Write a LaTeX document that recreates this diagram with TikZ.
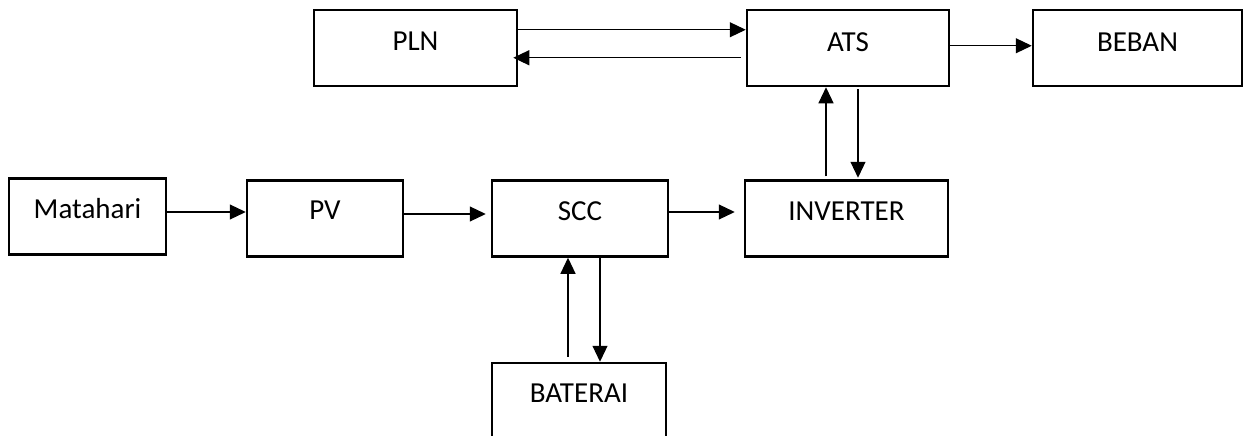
\documentclass[tikz,border=0pt]{standalone}
\usepackage{fontspec}
\setmainfont{Carlito}
\usetikzlibrary{arrows.meta}

\tikzset{
    blok/.style={draw=black, line width=2.5pt, minimum width=#1, minimum height=76pt},
    teks/.style={font=\fontsize{29}{33}\selectfont},
    panah/.style={black, line width=1.1pt, -{Triangle[length=16pt,width=15pt]}}
}

\begin{document}
\begin{tikzpicture}[x=1pt,y=1pt]
            \tikzstyle{every node}+=[inner sep=0pt]
            \path [use as bounding box, clip] (0,0) rectangle (1244,-436);
            \node (pln) [blok=203pt] at (415.5,-48) {};
            \node (ats) [blok=202pt] at (848,-48) {};
            \node (beban) [blok=209pt] at (1137.5,-48) {};
            \node (matahari) [blok=157pt] at (87.5,-216.5) {};
            \node (pv) [blok=156pt] at (325,-218.5) {};
            \node (scc) [blok=176pt] at (580,-218.5) {};
            \node (inverter) [blok=203pt] at (846.5,-218.5) {};
            \node (baterai) [blok=174pt] at (579,-401) {};
            \node (plnteks) [teks] at ([yshift=-32pt]pln.north) {PLN};
            \node (atsteks) [teks] at ([yshift=-33pt]ats.north) {ATS};
            \node (bebanteks) [teks] at ([yshift=-33pt]beban.north) {BEBAN};
            \node (mataharitekst) [teks] at ([yshift=-31pt]matahari.north) {Matahari};
            \node (pvteks) [teks] at ([yshift=-31pt]pv.north) {PV};
            \node (sccteks) [teks] at ([yshift=-32pt]scc.north) {SCC};
            \node (inverterteks) [teks] at ([yshift=-32pt]inverter.north) {INVERTER};
            \node (bateraiteks) [teks] at ([yshift=-31pt]baterai.north) {BATERAI};
            \draw [panah] ([yshift=-21pt]pln.north east) -- ([yshift=-21pt]ats.north west);
            \draw [panah] ([xshift=-5pt,yshift=-49pt]ats.north west) -- ([xshift=-5pt,yshift=-49pt]pln.north east);
            \draw [panah] ([xshift=-2pt,yshift=-37pt]ats.north east) -- ([yshift=-37pt]beban.north west);
            \draw [panah] ([yshift=4.5pt]matahari.east) -- ([yshift=4.5pt]matahari.east -| pv.west);
            \draw [panah] ([yshift=4.5pt]pv.east) -- ([xshift=-5pt,yshift=4.5pt]scc.west);
            \draw [panah] ([yshift=6.5pt]scc.east) -- ([xshift=-9pt,yshift=6.5pt]inverter.west);
            \draw [panah] ([xshift=-22pt,yshift=-89pt]ats.south) -- ([xshift=-22pt]ats.south);
            \draw [panah] ([xshift=10pt,yshift=-2pt]ats.south) -- ([xshift=11.5pt,yshift=1.5pt]inverter.north);
            \draw [panah] ([xshift=-11pt,yshift=5pt]baterai.north) -- ([xshift=-12pt]scc.south);
            \draw [panah] ([xshift=20pt]scc.south) -- ([xshift=21pt]baterai.north);
\end{tikzpicture}
\end{document}
